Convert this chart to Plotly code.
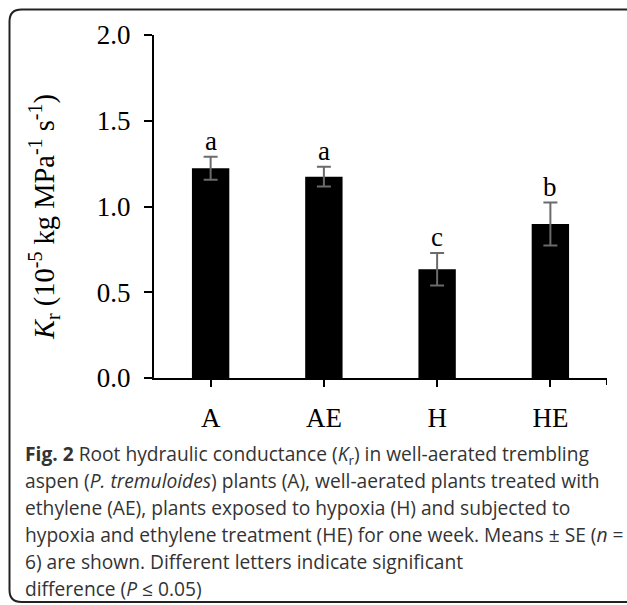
import plotly.graph_objects as go

# ---- data ----
categories = ["A", "AE", "H", "HE"]
means = [1.223, 1.174, 0.634, 0.898]
se = [0.067, 0.058, 0.095, 0.125]
letters = ["a", "a", "c", "b"]
y_ticks = [0.0, 0.5, 1.0, 1.5, 2.0]
y_ticklabels = ["0.0", "0.5", "1.0", "1.5", "2.0"]

caption_lines = [
    "<b>Fig. 2</b> Root hydraulic conductance (<i>K</i><sub>r</sub>) in well-aerated trembling",
    "aspen (<i>P. tremuloides</i>) plants (A), well-aerated plants treated with",
    "ethylene (AE), plants exposed to hypoxia (H) and subjected to",
    "hypoxia and ethylene treatment (HE) for one week. Means ± SE (<i>n</i> =",
    "6) are shown. Different letters indicate significant",
    "difference (<i>P</i> ≤ 0.05)",
]
y_title = "<i>K</i><sub>r</sub> (10<sup>-5</sup> kg MPa<sup>-1</sup> s<sup>-1</sup>)"

# ---- layout geometry (pixels) ----
W, H = 627, 605
L, R, T, B = 154, 20, 35, 227
PW = W - L - R
PH = H - T - B

def px(x):
    return (x - L) / PW

def py(y):
    return (H - B - y) / PH

SERIF = "Liberation Serif, Times New Roman, serif"
SANS = "Open Sans, Noto Sans, sans-serif"

fig = go.Figure()
fig.add_trace(go.Bar(
    x=categories, y=means, width=0.33,
    marker=dict(color="black", line=dict(width=0)),
    error_y=dict(type="data", array=se, visible=True, color="#6b6b6b",
                 thickness=2, width=7),
    showlegend=False, hoverinfo="skip",
))

annotations = []
for c, m, s, lt in zip(categories, means, se, letters):
    annotations.append(dict(x=c, y=m + s, xref="x", yref="y", text=lt,
                            showarrow=False, yanchor="bottom", yshift=-1,
                            font=dict(family=SERIF, size=27, color="black")))

annotations.append(dict(x=px(44), y=py(217), xref="paper", yref="paper",
                        text=y_title, textangle=-90, showarrow=False,
                        xanchor="center", yanchor="middle",
                        font=dict(family=SERIF, size=28.5, color="black")))

for i, line in enumerate(caption_lines):
    annotations.append(dict(x=px(23), y=py(454 + i * 26.8), xref="paper", yref="paper",
                            text=line, showarrow=False, xanchor="left",
                            yanchor="middle", align="left",
                            font=dict(family=SANS, size=19.2, color="#333333")))

# rounded border (pixel coords converted to paper)
x0, y0, x1, y1, r = 9.5, 9.5, 640, 602, 12
path = (f"M {px(x0)},{py(y0 + r)} Q {px(x0)},{py(y0)} {px(x0 + r)},{py(y0)} "
        f"L {px(x1)},{py(y0)} L {px(x1)},{py(y1)} L {px(x0 + r)},{py(y1)} "
        f"Q {px(x0)},{py(y1)} {px(x0)},{py(y1 - r)} Z")
shapes = [
    dict(type="path", path=path, xref="paper", yref="paper",
         line=dict(color="#222222", width=2), fillcolor="rgba(0,0,0,0)", layer="below"),
    # end tick on the x axis
    dict(type="line", xref="x", yref="paper", x0=3.5, x1=3.5, y0=0, y1=py(385),
         line=dict(color="black", width=2)),
]

fig.update_layout(
    width=W, height=H,
    margin=dict(l=L, r=R, t=T, b=B, pad=0),
    paper_bgcolor="white", plot_bgcolor="white",
    annotations=annotations, shapes=shapes,
    bargap=0.67,
    xaxis=dict(range=[-0.5, 3.5], showline=True, linecolor="black", linewidth=2,
               ticks="outside", ticklen=7, tickwidth=2, tickcolor="black",
               ticklabelstandoff=8,
               showgrid=False, zeroline=False,
               tickfont=dict(family=SERIF, size=27, color="black")),
    yaxis=dict(range=[0, 2.0], tickvals=y_ticks, ticktext=y_ticklabels,
               showline=True, linecolor="black", linewidth=2,
               ticks="outside", ticklen=8, tickwidth=2, tickcolor="black",
               ticklabelstandoff=8,
               showgrid=False, zeroline=False,
               tickfont=dict(family=SERIF, size=27, color="black")),
)

fig.write_html("out.html", config={"displayModeBar": False},
               post_script="document.body.style.margin='0';")
